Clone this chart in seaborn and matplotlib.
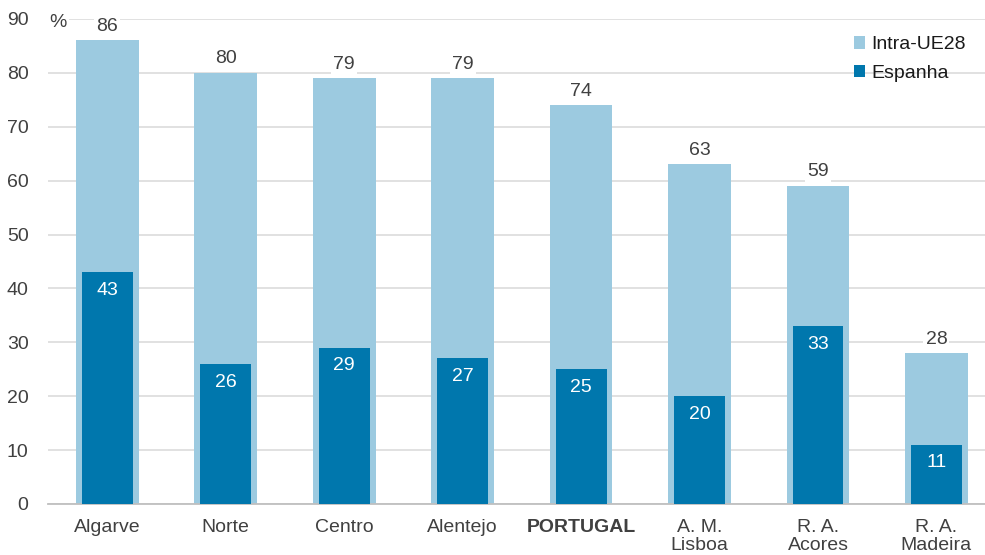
import matplotlib
matplotlib.use("Agg")
import matplotlib.pyplot as plt
import seaborn as sns
import pandas as pd

# Share of tourism from EU28 and from Spain, by region (%)
regions = ["Algarve", "Norte", "Centro", "Alentejo", "PORTUGAL",
           "A. M.\nLisboa", "R. A.\nAcores", "R. A.\nMadeira"]
intra_ue28 = [86, 80, 79, 79, 74, 63, 59, 28]
espanha = [43, 26, 29, 27, 25, 20, 33, 11]
y_ticks = [0, 10, 20, 30, 40, 50, 60, 70, 80, 90]

LIGHT = "#9ccae0"
DARK = "#0077ad"
TEXT = "#404040"
FS = 14

sns.set_theme(style="white")
plt.rcParams["font.family"] = ["Liberation Sans", "DejaVu Sans"]

df = pd.DataFrame({"region": regions, "intra": intra_ue28, "esp": espanha})

fig = plt.figure(figsize=(9.85, 5.55), dpi=100)
ax = fig.add_axes([0.0487, 0.0919, 0.9513, 0.874])

sns.barplot(data=df, x="region", y="intra", color=LIGHT, width=0.53,
            saturation=1, linewidth=0, ax=ax, label="Intra-UE28", zorder=2)
sns.barplot(data=df, x="region", y="esp", color=DARK, width=0.43,
            saturation=1, linewidth=0, ax=ax, label="Espanha", zorder=3)

ax.set_ylim(0, 90)
ax.set_xlim(-0.5, 7.41)
ax.set_yticks(y_ticks)
ax.yaxis.grid(True, color="#d9d9d9", linewidth=1.1, zorder=0)
ax.set_axisbelow(True)
for s in ["top", "right", "left"]:
    ax.spines[s].set_visible(False)
ax.spines["bottom"].set_color("#bfbfbf")
ax.spines["bottom"].set_linewidth(1.3)
ax.set_xlabel("")
ax.set_ylabel("")
ax.tick_params(axis="both", length=0, labelsize=FS, colors=TEXT)
ax.tick_params(axis="y", pad=14)
ax.tick_params(axis="x", pad=11)
for lbl in ax.get_xticklabels():
    lbl.set_linespacing(1.05)
    if lbl.get_text() == "PORTUGAL":
        lbl.set_fontweight("bold")

# value labels
for i, (tot, es) in enumerate(zip(intra_ue28, espanha)):
    ax.annotate(f"{tot}", (i, tot), xytext=(0, 4), textcoords="offset points",
                ha="center", va="bottom", fontsize=FS, color=TEXT,
                bbox=dict(facecolor="white", edgecolor="none", pad=1.5),
                zorder=5)
    ax.annotate(f"{es}", (i, es), xytext=(0, -7), textcoords="offset points",
                ha="center", va="top", fontsize=FS, color="white", zorder=5)

ax.text(-0.49, 89.3, "%", ha="left", va="center", fontsize=FS, color=TEXT,
        bbox=dict(facecolor="white", edgecolor="none", pad=1.5), zorder=5)

handles, labels = ax.get_legend_handles_labels()
leg = ax.legend(handles, labels, loc="upper right", bbox_to_anchor=(0.998, 1.0),
                frameon=False, fontsize=FS, handlelength=0.6, handleheight=0.6,
                handletextpad=0.3, labelspacing=0.6)
for t in leg.get_texts():
    t.set_color("#1a1a1a")

fig.savefig("out.png", dpi=100)
